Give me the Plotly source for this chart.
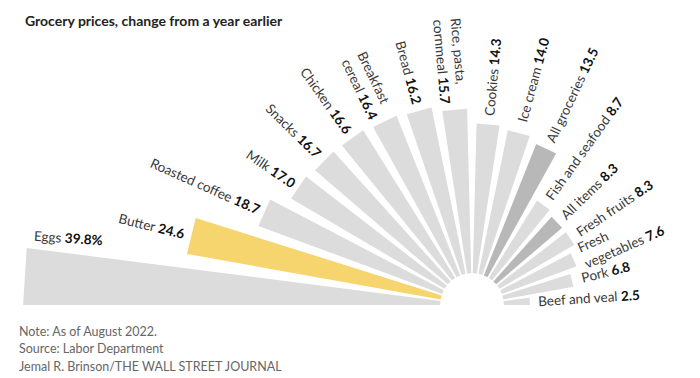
import math
import plotly.graph_objects as go

# ---------------- data ----------------
categories = ["Eggs", "Butter", "Roasted coffee", "Milk", "Snacks", "Chicken",
              "Breakfast<br>cereal", "Bread", "Rice, pasta,<br>cornmeal", "Cookies",
              "Ice cream", "All groceries", "Fish and seafood", "All items",
              "Fresh fruits", "Fresh<br>vegetables", "Pork", "Beef and veal"]
values = [39.8, 24.6, 18.7, 17.0, 16.7, 16.6, 16.4, 16.2, 15.7, 14.3,
          14.0, 13.5, 8.7, 8.3, 8.3, 7.6, 6.8, 2.5]
value_labels = ["39.8%", "24.6", "18.7", "17.0", "16.7", "16.6", "16.4", "16.2",
                "15.7", "14.3", "14.0", "13.5", "8.7", "8.3", "8.3", "7.6", "6.8", "2.5"]
highlight_yellow = ["Butter"]
highlight_dark = ["All groceries", "All items"]

# ---------------- styling / geometry ----------------
OFF = 8                          # page body margin
W, H = 700 - OFF, 378 - OFF      # figure size so it fits the window
PX = 10.48                       # pixels per percentage point
CX, CY = 472 - OFF, 305 - OFF    # pixel position of the fan centre (in figure)
HOLE = 31.8 / PX                 # inner hole radius, in value units
BAR_DEG = 7.3
n = len(values)
PITCH = (180 - BAR_DEG) / (n - 1)
FONT = "Lato"
LABEL_SIZE = 13.5
PAD_L, PAD_R = 7, 10

C_LIGHT = "#dcdcdc"
C_DARK = "#b8b8b8"
C_YELLOW = "#f6d46e"

# approximate Lato advance widths (em)
CW = {'a': .49, 'b': .55, 'c': .45, 'd': .55, 'e': .51, 'f': .31, 'g': .49, 'h': .55,
      'i': .23, 'j': .23, 'k': .49, 'l': .23, 'm': .83, 'n': .55, 'o': .55, 'p': .55,
      'q': .55, 'r': .36, 's': .42, 't': .34, 'u': .55, 'v': .49, 'w': .75, 'x': .48,
      'y': .49, 'z': .45, ' ': .19, ',': .2, '.': .2, '%': .78}


def text_w(s, size, bold=False):
    w = 0
    for ch in s:
        if ch.isdigit():
            w += .58
        elif ch.isupper():
            w += .63
        else:
            w += CW.get(ch, .5)
    return w * size * (1.04 if bold else 1.0)


fig = go.Figure()

for i, (cat, v, vl) in enumerate(zip(categories, values, value_labels)):
    lo = 180 - BAR_DEG - i * PITCH
    hi = lo + BAR_DEG
    r_in, r_out = HOLE, HOLE + v
    angs = [lo, lo, hi, hi, lo]
    rads = [r_in, r_out, r_out, r_in, r_in]
    xs = [r * math.cos(math.radians(a)) for r, a in zip(rads, angs)]
    ys = [r * math.sin(math.radians(a)) for r, a in zip(rads, angs)]
    if cat in highlight_yellow:
        col = C_YELLOW
    elif cat in highlight_dark:
        col = C_DARK
    else:
        col = C_LIGHT
    fig.add_trace(go.Scatter(x=xs, y=ys, mode="lines", fill="toself",
                             fillcolor=col, line=dict(width=0, color=col),
                             hoverinfo="text", text=f"{cat.replace('<br>', ' ')}: {vl}",
                             showlegend=False))

    # ---- label ----
    lines = cat.split("<br>")
    widths = [text_w(l, LABEL_SIZE) for l in lines]
    widths[-1] += text_w(" ", LABEL_SIZE) + text_w(vl, LABEL_SIZE, bold=True)
    L = max(widths)
    theta = (lo + hi) / 2
    tip_px = r_out * PX
    if i == 0:
        # Eggs: label sits above the bar, near its outer end
        rc_px = tip_px - 6 - L / 2
        ang = lo - math.degrees(15 / rc_px)
    else:
        rc_px = tip_px + (PAD_L if theta > 90 else PAD_R) + L / 2
        ang = theta
    rc = rc_px / PX
    tangle = (180 - theta) if theta > 90 else -theta
    txt = "<br>".join(lines[:-1] + [f"{lines[-1]} <b style='color:#111'>{vl}</b>"])
    fig.add_annotation(x=rc * math.cos(math.radians(ang)),
                       y=rc * math.sin(math.radians(ang)),
                       xref="x", yref="y", text=txt, showarrow=False,
                       textangle=tangle, xanchor="center", yanchor="middle",
                       align="left",
                       font=dict(family=FONT, size=LABEL_SIZE, color="#3a3a3a"))

# ---------------- title & notes ----------------
fig.add_annotation(x=(23 - OFF) / W, y=1 - (20 - OFF) / H, xref="paper", yref="paper",
                   text="<b>Grocery prices, change from a year earlier</b>",
                   showarrow=False, xanchor="left", yanchor="middle",
                   font=dict(family=FONT, size=14, color="#222"))
notes = ["Note: As of August 2022.", "Source: Labor Department",
         "Jemal R. Brinson/THE WALL STREET JOURNAL"]
for j, t in enumerate(notes):
    fig.add_annotation(x=(17 - OFF) / W, y=1 - (331 - OFF + j * 17.5) / H,
                       xref="paper", yref="paper",
                       text=t, showarrow=False, xanchor="left", yanchor="middle",
                       font=dict(family=FONT, size=12.5, color="#666"))

fig.update_xaxes(range=[-CX / PX, (W - CX) / PX], visible=False, fixedrange=True)
fig.update_yaxes(range=[-(H - CY) / PX, CY / PX], visible=False, fixedrange=True)
fig.update_layout(width=W, height=H, margin=dict(l=0, r=0, t=0, b=0),
                  plot_bgcolor="white", paper_bgcolor="white", showlegend=False)

fig.write_html("out.html")
